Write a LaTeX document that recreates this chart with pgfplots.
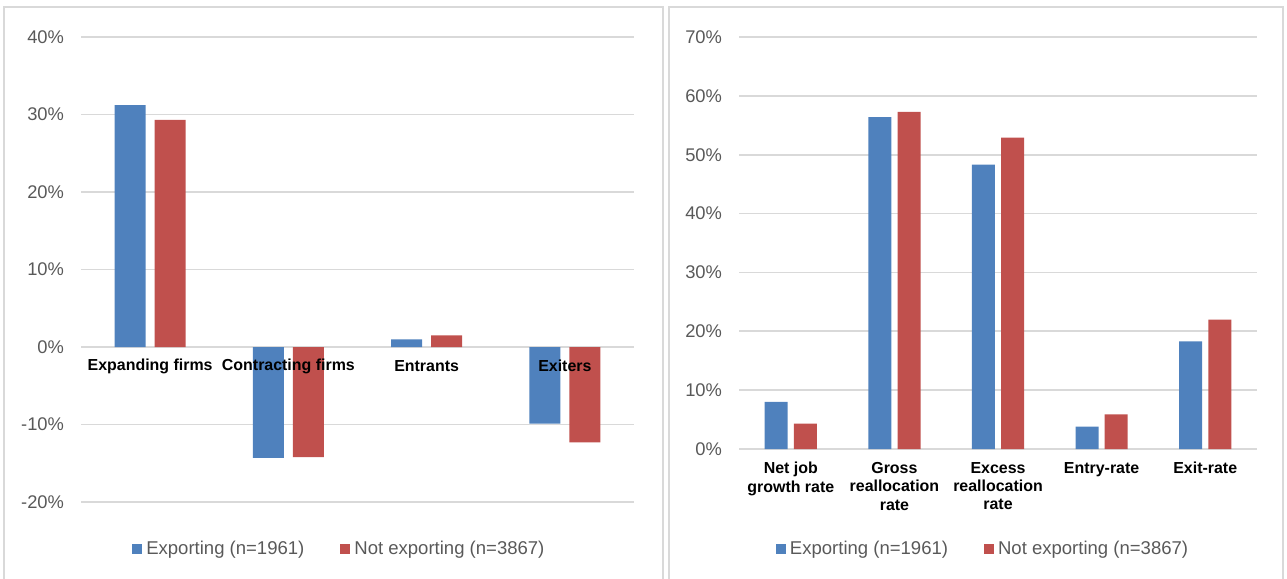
\documentclass[border=0pt]{standalone}
\usepackage{fontspec}
\setmainfont{Liberation Sans}
\usepackage{pgfplots}
\pgfplotsset{compat=1.18}
\definecolor{barblue}{HTML}{4F81BD}
\definecolor{barred}{HTML}{C0504D}
\definecolor{gridgray}{HTML}{D9D9D9}
\definecolor{framegray}{HTML}{D9D9D9}
\definecolor{txtgray}{HTML}{595959}
\pgfplotsset{
 mystyle/.style={
   scale only axis,
   ybar,
   axis line style={draw=none},
   major tick length=0pt,
   ymajorgrids,
   major grid style={gridgray, line width=0.9bp},
   yticklabel style={font=\fontsize{9.2}{11}\selectfont, text=txtgray, xshift=-5bp},
   legend style={draw=none, fill=none, font=\fontsize{9.3}{11}\selectfont, text=txtgray, inner sep=0pt,
     /tikz/every even column/.append style={column sep=16bp}},
   legend columns=2,
   clip=false,
 }
}
\begin{document}
\begin{tikzpicture}[x=0.5bp,y=-0.5bp]
\useasboundingbox (0,0) rectangle (1287,579);
\draw[framegray, line width=0.75bp] (4,590) -- (4,7) -- (663,7) -- (663,590);
\draw[framegray, line width=0.75bp] (669,590) -- (669,7) -- (1283,7) -- (1283,590);

\begin{axis}[mystyle,
  at={(40.5bp,-251bp)}, anchor=south west,
  width=276.5bp, height=232.5bp,
  xmin=-0.5, xmax=3.5, ymin=-20, ymax=40,
  ytick={-20,-10,0,10,20,30,40},
  yticklabels={-20\%,-10\%,0\%,10\%,20\%,30\%,40\%},
  xtick=\empty,
  bar width=15.5bp,
  legend image code/.code={\fill[#1] (0bp,-2.5bp) rectangle (5bp,2.5bp);},
  legend style={at={(0.469,0)}, anchor=center, yshift=-23.5bp},
]
\addplot[fill=barblue, draw=none, bar shift=-10bp] coordinates {(0,31.2) (1,-14.3) (2,1.0) (3,-9.9)};
\addplot[fill=barred, draw=none, bar shift=10bp] coordinates {(0,29.3) (1,-14.2) (2,1.5) (3,-12.3)};
\legend{Exporting (n=1961), Not exporting (n=3867)}
\node[font=\bfseries\fontsize{8}{9.5}\selectfont, anchor=center, yshift=-9.5bp] at (axis cs:0,0) {Expanding firms};
\node[font=\bfseries\fontsize{8}{9.5}\selectfont, anchor=center, yshift=-9.5bp] at (axis cs:1,0) {Contracting firms};
\node[font=\bfseries\fontsize{8}{9.5}\selectfont, anchor=center, yshift=-9.5bp] at (axis cs:2,0) {Entrants};
\node[font=\bfseries\fontsize{8}{9.5}\selectfont, anchor=center, yshift=-9.5bp] at (axis cs:3,0) {Exiters};
\end{axis}

\begin{axis}[mystyle,
  at={(369.5bp,-224.5bp)}, anchor=south west,
  width=259bp, height=206bp,
  xmin=-0.5, xmax=4.5, ymin=0, ymax=70,
  ytick={0,10,20,30,40,50,60,70},
  yticklabels={0\%,10\%,20\%,30\%,40\%,50\%,60\%,70\%},
  xtick={0,1,2,3,4},
  xticklabels={{Net job\\growth rate},{Gross\\reallocation\\rate},{Excess\\reallocation\\rate},{Entry-rate},{Exit-rate}},
  xticklabel style={align=center, font=\bfseries\fontsize{8}{9.25}\selectfont, text=black, yshift=-3bp},
  bar width=11.5bp,
  legend image code/.code={\fill[#1] (0bp,-2.5bp) rectangle (5bp,2.5bp);},
  legend style={at={(0.473,0)}, anchor=center, yshift=-50bp},
]
\addplot[fill=barblue, draw=none, bar shift=-7.3bp] coordinates {(0,8.0) (1,56.4) (2,48.3) (3,3.8) (4,18.3)};
\addplot[fill=barred, draw=none, bar shift=7.3bp] coordinates {(0,4.3) (1,57.3) (2,52.9) (3,5.9) (4,22.0)};
\legend{Exporting (n=1961), Not exporting (n=3867)}
\end{axis}
\end{tikzpicture}
\end{document}
